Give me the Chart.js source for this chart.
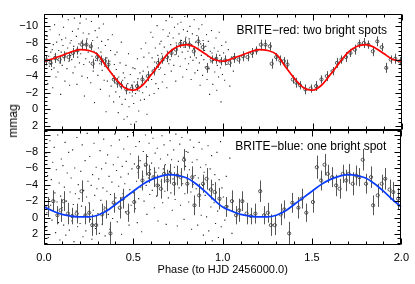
<!DOCTYPE html>
<html>
<head>
<meta charset="utf-8">
<script src="https://cdn.jsdelivr.net/npm/chart.js@4.4.1/dist/chart.umd.min.js"></script>
<style>
  html, body { margin: 0; padding: 0; background: #fff; }
  #wrap { position: relative; width: 415px; height: 284px; overflow: hidden; font-family: "Liberation Sans", Arial, sans-serif; }
  canvas { position: absolute; left: 0; }
  #cTop { top: 0; }
  #cBot { top: 117px; }
  #ylab { position: absolute; left: 13px; top: 121px; transform: translate(-50%, -50%) rotate(-90deg); font-size: 12px; color: #000; white-space: nowrap; }
</style>
</head>
<body>
<div id="wrap">
  <canvas id="cTop" width="415" height="143"></canvas>
  <canvas id="cBot" width="415" height="167"></canvas>
  <div id="ylab">mmag</div>
</div>
<script>
// model phases (one cycle, repeated for phase 1-2)
const modelPhase = [0, 0.05, 0.1, 0.15, 0.2, 0.25, 0.3, 0.35, 0.4, 0.45, 0.5, 0.55, 0.6, 0.65, 0.7, 0.75, 0.8, 0.85, 0.9, 0.95, 1.0];
const redModel = [-5.8, -6.1, -6.5, -6.9, -7.2, -7.1, -6.6, -5.1, -3.7, -2.6, -2.3, -2.9, -4.2, -5.6, -6.9, -7.6, -7.8, -7.4, -6.7, -6.0, -5.8];
const blueModel = [-1.3, -0.8, -0.4, -0.2, -0.1, -0.1, -0.3, -0.8, -1.6, -2.4, -3.2, -4.0, -4.6, -5.0, -5.2, -5.1, -4.8, -4.1, -3.2, -2.2, -1.3];

// binned points [phase, mmag, error]; plotted at phase and phase+1
const redBins = [
  [0.012, -5.9, 0.6], [0.037, -5.6, 0.5], [0.062, -6.2, 0.6], [0.087, -6.0, 0.5], [0.112, -6.4, 0.6],
  [0.137, -6.3, 0.5], [0.162, -6.8, 0.6], [0.187, -7.1, 0.5], [0.212, -7.8, 0.6], [0.237, -7.8, 0.6],
  [0.262, -7.6, 0.5], [0.272, -5.5, 0.6], [0.297, -6.3, 0.5], [0.320, -5.9, 0.6], [0.340, -5.8, 0.5],
  [0.360, -5.4, 0.6], [0.390, -3.6, 0.5], [0.410, -3.2, 0.6], [0.430, -2.9, 0.5], [0.460, -2.4, 0.6],
  [0.490, -2.5, 0.5], [0.520, -2.8, 0.6], [0.550, -3.6, 0.5], [0.580, -4.0, 0.6], [0.612, -4.6, 0.5],
  [0.637, -5.6, 0.6], [0.662, -6.0, 0.5], [0.687, -6.3, 0.6], [0.712, -6.8, 0.5], [0.737, -7.2, 0.6],
  [0.762, -7.9, 0.5], [0.787, -8.0, 0.6], [0.812, -7.8, 0.5], [0.837, -7.0, 0.6], [0.862, -8.2, 0.6],
  [0.887, -7.5, 0.5], [0.912, -5.0, 0.6], [0.937, -6.0, 0.5], [0.962, -6.1, 0.6], [0.987, -5.8, 0.5]
];
const blueBins = [
  [0.020, -1.3, 1.2], [0.052, -2.0, 1.3], [0.075, -0.3, 1.1], [0.093, -0.9, 1.4], [0.110, -2.0, 1.2],
  [0.134, -0.5, 1.3], [0.158, -0.2, 1.0], [0.183, -0.5, 1.2], [0.210, -3.2, 1.3], [0.232, -0.3, 1.1],
  [0.253, -0.6, 1.2], [0.270, 0.9, 1.3], [0.292, 0.9, 1.2], [0.325, -0.4, 1.3], [0.345, -1.0, 1.1],
  [0.372, 1.9, 1.4], [0.390, -1.8, 1.2], [0.424, -1.2, 1.3], [0.442, -2.3, 1.2], [0.468, -0.6, 1.1],
  [0.505, -1.9, 1.3], [0.527, -6.1, 1.4], [0.551, -4.5, 1.2], [0.570, -6.4, 1.3], [0.588, -5.3, 1.1],
  [0.613, -4.9, 1.2], [0.635, -3.9, 1.3], [0.654, -3.5, 1.2], [0.672, -5.3, 1.1], [0.691, -4.5, 1.3],
  [0.706, -5.3, 1.2], [0.728, -4.1, 1.4], [0.747, -5.1, 1.2], [0.765, -4.9, 1.1], [0.784, -7.0, 1.3],
  [0.802, -4.1, 1.2], [0.830, -4.9, 1.3], [0.842, -1.5, 1.2], [0.868, -2.7, 1.4], [0.890, -4.1, 1.1],
  [0.910, -4.7, 1.3], [0.934, -3.4, 1.2], [0.955, -3.1, 1.2], [0.982, -2.3, 1.3]
];

// raw photometry [phase, mmag]
const redRaw = [
  [0.004,-4.2],[0.008,-7.5],[0.012,-5.9],[0.017,-8.8],[0.021,-3.1],[0.026,-6.4],[0.030,-5.2],[0.034,-9.6],[0.038,-6.9],[0.042,-4.8],[0.046,-7.2],[0.049,-2.6],[0.015,-6.1],[0.036,-5.5],
  [0.052,-7.8],[0.056,-5.0],[0.059,-10.2],[0.063,-6.6],[0.067,-3.9],[0.071,-8.1],[0.074,-6.0],[0.078,-4.5],[0.082,-7.1],[0.086,-9.0],[0.089,-5.6],[0.093,-1.8],[0.096,-6.9],[0.099,-8.4],
  [0.102,-5.3],[0.106,-7.7],[0.109,-9.9],[0.113,-6.2],[0.117,-3.4],[0.121,-8.6],[0.124,-6.8],[0.128,-4.9],[0.132,-7.4],[0.136,-10.8],[0.139,-5.8],[0.143,-2.9],[0.146,-8.0],[0.149,-6.5],
  [0.152,-8.3],[0.155,-6.0],[0.159,-9.4],[0.162,-4.4],[0.166,-7.6],[0.170,-11.0],[0.173,-5.1],[0.177,-7.0],[0.181,-8.8],[0.184,-3.0],[0.188,-6.3],[0.191,-9.7],[0.195,-7.9],[0.198,-5.6],
  [0.201,-10.4],[0.205,-6.7],[0.208,-8.1],[0.212,-4.0],[0.215,-7.3],[0.219,-9.2],[0.222,-5.4],[0.226,-1.6],[0.229,-7.8],[0.233,-6.1],[0.236,-10.9],[0.240,-8.5],[0.243,-3.8],[0.247,-6.9],
  [0.251,-9.1],[0.254,-5.7],[0.258,-7.5],[0.261,-3.2],[0.265,-10.6],[0.268,-6.4],[0.272,-8.3],[0.275,-4.6],[0.279,-7.0],[0.282,-0.8],[0.286,-9.5],[0.289,-5.9],[0.293,-6.8],[0.297,-8.7],
  [0.301,-4.1],[0.304,-7.4],[0.308,-9.8],[0.311,-5.5],[0.315,-2.4],[0.318,-6.9],[0.322,-8.2],[0.325,-4.7],[0.329,-6.1],[0.332,-10.3],[0.336,-3.5],[0.339,-5.2],[0.343,-7.7],[0.347,0.3],
  [0.351,-6.2],[0.354,-3.4],[0.358,-8.4],[0.361,-4.9],[0.365,-1.6],[0.368,-5.8],[0.372,-7.1],[0.375,-2.8],[0.379,-4.3],[0.382,-9.0],[0.386,-3.7],[0.389,-0.9],[0.393,-5.4],[0.397,-6.6],
  [0.401,-2.1],[0.404,-4.8],[0.408,-6.9],[0.411,-3.0],[0.415,0.4],[0.418,-3.9],[0.422,-1.5],[0.425,-5.6],[0.429,-2.7],[0.432,-8.1],[0.436,-0.6],[0.439,-3.5],[0.443,-4.4],[0.447,1.2],
  [0.451,-3.8],[0.454,-1.2],[0.458,-5.3],[0.461,-2.4],[0.465,0.9],[0.468,-3.1],[0.472,-6.7],[0.475,-0.3],[0.479,-2.0],[0.482,-4.2],[0.486,1.8],[0.489,-2.9],[0.493,-1.6],[0.497,-5.0],
  [0.501,-0.7],[0.504,-3.3],[0.508,-4.9],[0.511,-1.9],[0.515,1.5],[0.518,-2.6],[0.522,-6.1],[0.525,-3.7],[0.529,0.2],[0.532,-2.2],[0.536,-4.4],[0.539,-1.1],[0.543,-7.3],[0.547,-3.0],
  [0.551,-2.0],[0.554,-4.6],[0.558,-6.3],[0.561,-1.2],[0.565,-3.4],[0.568,-8.0],[0.572,-2.7],[0.575,0.6],[0.579,-5.1],[0.582,-3.9],[0.586,-6.8],[0.589,-1.7],[0.593,-4.2],[0.597,-9.3],
  [0.601,-3.6],[0.604,-6.2],[0.608,-8.7],[0.611,-4.5],[0.615,-1.9],[0.618,-5.7],[0.622,-7.4],[0.625,-3.1],[0.629,-5.2],[0.632,-10.1],[0.636,-6.5],[0.639,-2.5],[0.643,-4.8],[0.647,-7.9],
  [0.651,-5.0],[0.654,-8.2],[0.658,-6.7],[0.661,-3.3],[0.665,-9.6],[0.668,-5.9],[0.672,-7.5],[0.675,-4.2],[0.679,-6.3],[0.682,-10.7],[0.686,-2.6],[0.689,-7.0],[0.693,-8.8],[0.697,-5.5],
  [0.701,-9.2],[0.704,-6.0],[0.708,-7.8],[0.711,-4.6],[0.715,-11.1],[0.718,-7.1],[0.722,-8.6],[0.725,-5.3],[0.729,-9.9],[0.732,-6.6],[0.736,-3.4],[0.739,-8.0],[0.743,-7.4],[0.747,-10.3],
  [0.751,-6.4],[0.754,-9.1],[0.758,-7.7],[0.761,-5.2],[0.765,-10.5],[0.768,-8.3],[0.772,-6.9],[0.775,-3.9],[0.779,-9.6],[0.782,-7.5],[0.786,-11.2],[0.789,-6.1],[0.793,-8.7],[0.797,-4.8],
  [0.801,-9.4],[0.804,-7.0],[0.808,-5.5],[0.811,-8.5],[0.815,-10.0],[0.818,-6.3],[0.822,-3.6],[0.825,-7.8],[0.829,-9.1],[0.832,-5.9],[0.836,-7.3],[0.839,-10.8],[0.843,-4.4],[0.847,-8.1],
  [0.851,-6.2],[0.854,-8.9],[0.858,-4.7],[0.861,-7.4],[0.865,-9.7],[0.868,-5.6],[0.872,-2.9],[0.875,-7.9],[0.879,-6.5],[0.882,-10.2],[0.886,-4.1],[0.889,-8.3],[0.893,-6.0],[0.897,-7.1],
  [0.901,-5.1],[0.904,-7.6],[0.908,-9.0],[0.911,-3.6],[0.915,-6.4],[0.918,-8.2],[0.922,-4.9],[0.925,-1.8],[0.929,-7.0],[0.932,-5.7],[0.936,-9.5],[0.939,-6.8],[0.943,-3.0],[0.947,-5.9],
  [0.951,-7.4],[0.954,-4.5],[0.958,-6.1],[0.961,-8.6],[0.965,-2.3],[0.968,-5.3],[0.972,-7.0],[0.975,-3.9],[0.979,-9.3],[0.982,-6.5],[0.986,-5.0],[0.989,-0.9],[0.993,-7.7],[0.997,-4.2],
  [1.003,-6.8],[1.009,-3.5],[1.016,-8.1],[1.022,-5.4],[1.030,-7.2],[1.038,-2.8],[1.047,-6.3],[1.058,-4.6]
];
const blueRaw = [
  [0.003,-3.4],[0.007,1.2],[0.011,-7.8],[0.016,-0.6],[0.020,-5.1],[0.024,2.4],[0.029,-2.2],[0.033,-9.3],[0.037,-1.5],[0.041,-4.6],[0.045,0.3],[0.049,-6.7],
  [0.053,-0.9],[0.057,-8.5],[0.061,-3.0],[0.065,1.8],[0.069,-5.8],[0.073,-1.9],[0.077,-10.0],[0.081,0.6],[0.085,-4.2],[0.089,2.7],[0.093,-2.6],[0.097,-7.1],
  [0.102,-1.2],[0.106,-6.3],[0.110,0.9],[0.114,-3.7],[0.118,-9.1],[0.122,2.1],[0.126,-2.0],[0.130,-5.4],[0.134,-0.3],[0.138,-7.9],[0.142,1.5],[0.146,-3.1],
  [0.152,-4.8],[0.156,0.4],[0.160,-8.2],[0.164,-1.6],[0.168,2.9],[0.172,-6.0],[0.176,-2.9],[0.180,-0.8],[0.184,-9.7],[0.188,1.1],[0.192,-4.0],[0.196,-2.3],
  [0.202,0.7],[0.206,-5.6],[0.210,-1.4],[0.214,-8.8],[0.218,2.3],[0.222,-3.3],[0.226,-0.2],[0.230,-6.9],[0.234,1.6],[0.238,-2.5],[0.242,-10.2],[0.246,-4.4],
  [0.252,-1.8],[0.256,-7.4],[0.260,0.2],[0.264,-3.9],[0.268,2.6],[0.272,-5.2],[0.276,-0.9],[0.280,-9.0],[0.284,-2.7],[0.288,1.3],[0.292,-6.1],[0.296,-3.5],
  [0.302,-0.5],[0.306,-4.7],[0.310,1.9],[0.314,-8.1],[0.318,-2.1],[0.322,-5.9],[0.326,0.8],[0.330,-3.6],[0.334,-9.5],[0.338,-1.3],[0.342,2.2],[0.346,-6.6],
  [0.352,-3.2],[0.356,-7.6],[0.360,-0.4],[0.364,-5.0],[0.368,1.4],[0.372,-2.8],[0.376,-8.7],[0.380,-4.3],[0.384,0.1],[0.388,-6.4],[0.392,-1.7],[0.396,-10.1],
  [0.402,-2.4],[0.406,-5.7],[0.410,0.5],[0.414,-7.3],[0.418,-3.8],[0.422,-9.4],[0.426,-1.0],[0.430,-4.9],[0.434,2.0],[0.438,-6.2],[0.442,-2.9],[0.446,-8.3],
  [0.452,-4.1],[0.456,-0.7],[0.460,-6.8],[0.464,-2.6],[0.468,-9.8],[0.472,-5.3],[0.476,0.9],[0.480,-3.4],[0.484,-7.7],[0.488,-1.5],[0.492,-5.9],[0.496,-10.3],
  [0.502,-3.0],[0.506,-6.5],[0.510,-1.1],[0.514,-8.6],[0.518,-4.4],[0.522,0.6],[0.526,-5.5],[0.530,-2.3],[0.534,-9.2],[0.538,-6.9],[0.542,-3.7],[0.546,1.7],
  [0.552,-5.0],[0.556,-8.0],[0.560,-2.0],[0.564,-6.3],[0.568,-10.0],[0.572,-3.9],[0.576,-0.4],[0.580,-7.4],[0.584,-4.8],[0.588,-9.0],[0.592,-2.8],[0.596,-5.8],
  [0.602,-6.6],[0.606,-3.3],[0.610,-9.6],[0.614,-4.9],[0.618,-1.2],[0.622,-7.8],[0.626,-5.5],[0.630,-2.6],[0.634,-8.4],[0.638,0.4],[0.642,-6.0],[0.646,-3.9],
  [0.652,-7.1],[0.656,-4.4],[0.660,-9.9],[0.664,-1.8],[0.668,-5.9],[0.672,-8.8],[0.676,-3.2],[0.680,-6.4],[0.684,0.8],[0.688,-4.9],[0.692,-7.6],[0.696,-2.4],
  [0.702,-5.6],[0.706,-9.3],[0.710,-3.0],[0.714,-7.0],[0.718,-0.9],[0.722,-4.7],[0.726,-8.2],[0.730,-6.1],[0.734,-2.2],[0.738,-10.1],[0.742,-5.2],[0.746,1.0],
  [0.752,-6.8],[0.756,-3.6],[0.760,-8.9],[0.764,-1.5],[0.768,-5.4],[0.772,-9.7],[0.776,-4.1],[0.780,-7.3],[0.784,0.2],[0.788,-2.9],[0.792,-6.2],[0.796,-8.0],
  [0.802,-4.6],[0.806,-7.9],[0.810,-1.9],[0.814,-5.8],[0.818,-9.4],[0.822,-3.1],[0.826,1.4],[0.830,-6.7],[0.834,-4.0],[0.838,-8.5],[0.842,-0.6],[0.846,-5.1],
  [0.852,-3.5],[0.856,-7.0],[0.860,0.9],[0.864,-4.8],[0.868,-9.1],[0.872,-2.2],[0.876,-6.1],[0.880,-0.3],[0.884,-8.3],[0.888,-3.9],[0.892,2.1],[0.896,-5.5],
  [0.902,-2.7],[0.906,-6.4],[0.910,-0.1],[0.914,-4.3],[0.918,-8.7],[0.922,1.6],[0.926,-3.4],[0.930,-5.9],[0.934,-1.3],[0.938,-7.5],[0.942,2.8],[0.946,-4.0],
  [0.952,-1.8],[0.956,-5.2],[0.960,0.7],[0.964,-3.0],[0.968,-7.9],[0.972,-0.8],[0.976,2.4],[0.980,-4.6],[0.984,-2.1],[0.988,-9.2],[0.992,1.1],[0.996,-3.6],
  [1.004,-2.5],[1.012,0.3],[1.020,-5.0],[1.029,-1.4],[1.040,-7.2],[1.052,1.9]
];

const xTicks = [0, 0.5, 1.0, 1.5, 2.0];
const topYTicks = [-10, -8, -6, -4, -2, 0, 2];
const botYTicks = [-8, -6, -4, -2, 0, 2];
const topLabel = 'BRITE\u2212red: two bright spots';
const botLabel = 'BRITE\u2212blue: one bright spot';
const xTitle = 'Phase (to HJD 2456000.0)';

const FONT = '"Liberation Sans", Arial, sans-serif';

function twoCycles(vals) {
  const pts = modelPhase.map((p, i) => ({ x: p, y: vals[i] }));
  modelPhase.slice(1).forEach((p, i) => pts.push({ x: p + 1, y: vals[i + 1] }));
  return pts;
}
function binPoints(bins) {
  return bins.map(b => ({ x: b[0], y: b[1] })).concat(bins.map(b => ({ x: b[0] + 1, y: b[1] })));
}
function binErrors(bins) {
  return bins.map(b => b[2]).concat(bins.map(b => b[2]));
}

const errorBars = {
  id: 'errorBars',
  beforeDatasetDraw(chart, args) {
    const ds = chart.data.datasets[args.index];
    if (!ds.errs) return;
    const { ctx, scales: { x, y } } = chart;
    ctx.save();
    ctx.strokeStyle = '#555';
    ctx.lineWidth = 1;
    ctx.beginPath();
    ds.data.forEach((p, i) => {
      const px = Math.round(x.getPixelForValue(p.x)) + 0.5;
      ctx.moveTo(px, y.getPixelForValue(p.y - ds.errs[i]));
      ctx.lineTo(px, y.getPixelForValue(p.y + ds.errs[i]));
    });
    ctx.stroke();
    ctx.restore();
  }
};

const frame = {
  id: 'frame',
  afterDraw(chart, args, opts) {
    const { ctx, chartArea: a, scales: { x, y } } = chart;
    const L = Math.round(a.left) + 0.5, R = Math.round(a.right) - 0.5;
    const T = Math.round(a.top) + 0.5, B = Math.round(a.bottom) - 0.5;
    ctx.save();
    ctx.strokeStyle = '#000';
    ctx.lineWidth = 1;
    ctx.beginPath();
    ctx.rect(L, T, R - L, B - T);
    for (let i = 0; i <= 20; i++) {
      const px = Math.round(x.getPixelForValue(i / 10)) + 0.5;
      const len = i % 5 === 0 ? 6 : 3;
      ctx.moveTo(px, T); ctx.lineTo(px, T + len);
      ctx.moveTo(px, B); ctx.lineTo(px, B - len);
    }
    for (let v = Math.ceil(y.min * 2) / 2; v <= y.max; v += 0.5) {
      const py = Math.round(y.getPixelForValue(v)) + 0.5;
      const len = v % 2 === 0 ? 6 : 3;
      ctx.moveTo(L, py); ctx.lineTo(L + len, py);
      ctx.moveTo(R, py); ctx.lineTo(R - len, py);
    }
    ctx.stroke();
    ctx.fillStyle = '#000';
    ctx.font = '12px ' + FONT;
    ctx.textAlign = 'right';
    ctx.textBaseline = 'middle';
    ctx.fillText(opts.label, a.right - 15, a.top + 17);
    ctx.restore();
  }
};

const minus = v => String(v).replace('-', '\u2212');

function makeChart(id, o) {
  return new Chart(document.getElementById(id), {
    type: 'scatter',
    data: {
      datasets: [
        { data: twoCycles(o.model), showLine: true, borderColor: o.color, borderWidth: 1.7, pointRadius: 0, cubicInterpolationMode: 'monotone', order: 0 },
        { data: binPoints(o.bins), errs: binErrors(o.bins), pointRadius: 1.6, pointBorderWidth: 0.9, pointBorderColor: '#444', pointBackgroundColor: 'rgba(255,255,255,0)', order: 1 },
        { data: o.raw.map(r => ({ x: r[0], y: r[1] })), pointStyle: 'rect', pointRadius: 0.8, pointBorderWidth: 0, pointBackgroundColor: '#222', order: 2 }
      ]
    },
    options: {
      responsive: false,
      animation: false,
      events: [],
      layout: { padding: o.padding },
      plugins: { legend: { display: false }, tooltip: { enabled: false }, frame: { label: o.label } },
      scales: {
        x: {
          type: 'linear', min: 0, max: 2,
          display: o.showX,
          grid: { display: false, drawTicks: false }, border: { display: false },
          afterBuildTicks: s => { s.ticks = xTicks.map(v => ({ value: v })); },
          afterFit: s => { if (o.showX) s.height = 39; },
          ticks: { color: '#000', font: { family: FONT, size: 11 }, padding: 6, maxRotation: 0, callback: v => v.toFixed(1) },
          title: { display: true, text: xTitle, color: '#000', font: { family: FONT, size: 11 }, padding: { top: 0, bottom: 7 } }
        },
        y: {
          type: 'linear', min: o.yMin, max: o.yMax, reverse: true,
          grid: { display: false, drawTicks: false }, border: { display: false },
          afterBuildTicks: s => { s.ticks = o.yTicks.map(v => ({ value: v })); },
          afterFit: s => { s.width = 44; },
          ticks: { color: '#000', font: { family: FONT, size: 11 }, padding: 6, callback: minus }
        }
      }
    },
    plugins: [errorBars, frame]
  });
}

makeChart('cTop', {
  model: redModel, bins: redBins, raw: redRaw, color: '#ff0000', label: topLabel,
  yMin: -11.5, yMax: 2.5, yTicks: topYTicks, showX: false,
  padding: { left: 0, right: 13, top: 14, bottom: 13 }
});
makeChart('cBot', {
  model: blueModel, bins: blueBins, raw: blueRaw, color: '#0a3cff', label: botLabel,
  yMin: -10.6, yMax: 3.3, yTicks: botYTicks, showX: true,
  padding: { left: 0, right: 13, top: 13, bottom: 0 }
});
</script>
</body>
</html>
